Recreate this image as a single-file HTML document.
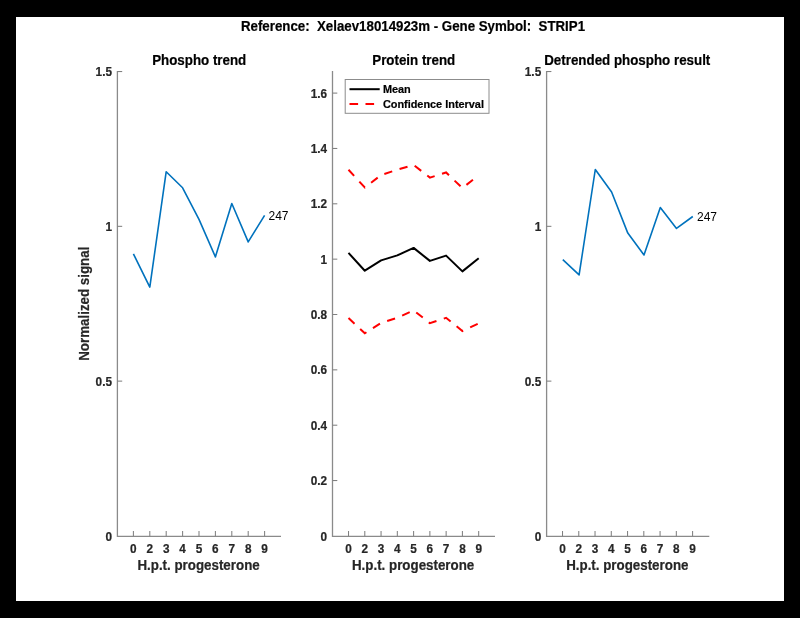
<!DOCTYPE html>
<html><head><meta charset="utf-8"><title>STRIP1</title>
<style>
html,body{margin:0;padding:0;background:#000;}
body{width:800px;height:618px;overflow:hidden;font-family:"Liberation Sans",sans-serif;}
svg text{font-family:"Liberation Sans",sans-serif;}
svg{will-change:transform;}
svg text[font-weight=bold]{stroke-width:0.2px;stroke-linejoin:round;paint-order:stroke;}
svg text[fill="#000"][font-weight=bold]{stroke:#000;}
svg text[fill="#262626"][font-weight=bold]{stroke:#262626;}
</style></head><body>
<svg width="800" height="618" viewBox="0 0 800 618" style="display:block">
<rect x="0" y="0" width="800" height="618" fill="#000"/>
<rect x="16" y="17" width="768" height="584" fill="#fff"/>
<text transform="translate(413,30.6) scale(1,1.06)" text-anchor="middle" font-size="13.3" font-weight="bold" fill="#000" style="white-space:pre" xml:space="preserve">Reference:  Xelaev18014923m - Gene Symbol:  STRIP1</text>
<path d="M117.4 70.89999999999999 V536.3 H281" fill="none" stroke="#8a8a8a" stroke-width="1.3"/>
<path d="M133.40 536.3 v-5.3" stroke="#808080" stroke-width="1.05"/>
<path d="M149.80 536.3 v-5.3" stroke="#808080" stroke-width="1.05"/>
<path d="M166.20 536.3 v-5.3" stroke="#808080" stroke-width="1.05"/>
<path d="M182.60 536.3 v-5.3" stroke="#808080" stroke-width="1.05"/>
<path d="M199.00 536.3 v-5.3" stroke="#808080" stroke-width="1.05"/>
<path d="M215.40 536.3 v-5.3" stroke="#808080" stroke-width="1.05"/>
<path d="M231.80 536.3 v-5.3" stroke="#808080" stroke-width="1.05"/>
<path d="M248.20 536.3 v-5.3" stroke="#808080" stroke-width="1.05"/>
<path d="M264.60 536.3 v-5.3" stroke="#808080" stroke-width="1.05"/>
<text transform="translate(133.40,552.5) scale(1,1.06)" text-anchor="middle" font-size="11.8" font-weight="bold" fill="#262626">0</text>
<text transform="translate(149.80,552.5) scale(1,1.06)" text-anchor="middle" font-size="11.8" font-weight="bold" fill="#262626">2</text>
<text transform="translate(166.20,552.5) scale(1,1.06)" text-anchor="middle" font-size="11.8" font-weight="bold" fill="#262626">3</text>
<text transform="translate(182.60,552.5) scale(1,1.06)" text-anchor="middle" font-size="11.8" font-weight="bold" fill="#262626">4</text>
<text transform="translate(199.00,552.5) scale(1,1.06)" text-anchor="middle" font-size="11.8" font-weight="bold" fill="#262626">5</text>
<text transform="translate(215.40,552.5) scale(1,1.06)" text-anchor="middle" font-size="11.8" font-weight="bold" fill="#262626">6</text>
<text transform="translate(231.80,552.5) scale(1,1.06)" text-anchor="middle" font-size="11.8" font-weight="bold" fill="#262626">7</text>
<text transform="translate(248.20,552.5) scale(1,1.06)" text-anchor="middle" font-size="11.8" font-weight="bold" fill="#262626">8</text>
<text transform="translate(264.60,552.5) scale(1,1.06)" text-anchor="middle" font-size="11.8" font-weight="bold" fill="#262626">9</text>
<text transform="translate(112.00,540.50) scale(1,1.06)" text-anchor="end" font-size="11.8" font-weight="bold" fill="#262626">0</text>
<path d="M117.4 381.12 h4.8" stroke="#808080" stroke-width="1.05"/>
<text transform="translate(112.00,385.72) scale(1,1.06)" text-anchor="end" font-size="11.8" font-weight="bold" fill="#262626">0.5</text>
<path d="M117.4 226.33 h4.8" stroke="#808080" stroke-width="1.05"/>
<text transform="translate(112.00,230.93) scale(1,1.06)" text-anchor="end" font-size="11.8" font-weight="bold" fill="#262626">1</text>
<path d="M117.4 71.55 h4.8" stroke="#808080" stroke-width="1.05"/>
<text transform="translate(112.00,76.15) scale(1,1.06)" text-anchor="end" font-size="11.8" font-weight="bold" fill="#262626">1.5</text>
<text transform="translate(198.55,570.3) scale(1,1.06)" text-anchor="middle" font-size="13.35" font-weight="bold" fill="#262626">H.p.t. progesterone</text>
<text transform="translate(199.20,65.2) scale(1,1.06)" text-anchor="middle" font-size="13.35" font-weight="bold" fill="#000">Phospho trend</text>
<polyline points="133.4,253.8 149.8,287.1 166.2,171.7 182.6,187.8 199.0,219.4 215.4,256.9 231.8,203.5 248.2,241.9 264.6,215.3" fill="none" stroke="#0072BD" stroke-width="1.6" stroke-linejoin="round"/>
<text x="268.5" y="219.6" font-size="12" fill="#000">247</text>
<text transform="translate(89.0,303.7) rotate(-90) scale(1,1.06)" text-anchor="middle" font-size="13.35" font-weight="bold" fill="#262626">Normalized signal</text>
<path d="M332.5 70.89999999999999 V536.3 H495" fill="none" stroke="#8a8a8a" stroke-width="1.3"/>
<path d="M348.52 536.3 v-5.3" stroke="#808080" stroke-width="1.05"/>
<path d="M364.79 536.3 v-5.3" stroke="#808080" stroke-width="1.05"/>
<path d="M381.06 536.3 v-5.3" stroke="#808080" stroke-width="1.05"/>
<path d="M397.33 536.3 v-5.3" stroke="#808080" stroke-width="1.05"/>
<path d="M413.60 536.3 v-5.3" stroke="#808080" stroke-width="1.05"/>
<path d="M429.87 536.3 v-5.3" stroke="#808080" stroke-width="1.05"/>
<path d="M446.14 536.3 v-5.3" stroke="#808080" stroke-width="1.05"/>
<path d="M462.41 536.3 v-5.3" stroke="#808080" stroke-width="1.05"/>
<path d="M478.68 536.3 v-5.3" stroke="#808080" stroke-width="1.05"/>
<text transform="translate(348.52,552.5) scale(1,1.06)" text-anchor="middle" font-size="11.8" font-weight="bold" fill="#262626">0</text>
<text transform="translate(364.79,552.5) scale(1,1.06)" text-anchor="middle" font-size="11.8" font-weight="bold" fill="#262626">2</text>
<text transform="translate(381.06,552.5) scale(1,1.06)" text-anchor="middle" font-size="11.8" font-weight="bold" fill="#262626">3</text>
<text transform="translate(397.33,552.5) scale(1,1.06)" text-anchor="middle" font-size="11.8" font-weight="bold" fill="#262626">4</text>
<text transform="translate(413.60,552.5) scale(1,1.06)" text-anchor="middle" font-size="11.8" font-weight="bold" fill="#262626">5</text>
<text transform="translate(429.87,552.5) scale(1,1.06)" text-anchor="middle" font-size="11.8" font-weight="bold" fill="#262626">6</text>
<text transform="translate(446.14,552.5) scale(1,1.06)" text-anchor="middle" font-size="11.8" font-weight="bold" fill="#262626">7</text>
<text transform="translate(462.41,552.5) scale(1,1.06)" text-anchor="middle" font-size="11.8" font-weight="bold" fill="#262626">8</text>
<text transform="translate(478.68,552.5) scale(1,1.06)" text-anchor="middle" font-size="11.8" font-weight="bold" fill="#262626">9</text>
<text transform="translate(327.10,540.50) scale(1,1.06)" text-anchor="end" font-size="11.8" font-weight="bold" fill="#262626">0</text>
<path d="M332.5 480.55 h4.8" stroke="#808080" stroke-width="1.05"/>
<text transform="translate(327.10,485.15) scale(1,1.06)" text-anchor="end" font-size="11.8" font-weight="bold" fill="#262626">0.2</text>
<path d="M332.5 425.20 h4.8" stroke="#808080" stroke-width="1.05"/>
<text transform="translate(327.10,429.80) scale(1,1.06)" text-anchor="end" font-size="11.8" font-weight="bold" fill="#262626">0.4</text>
<path d="M332.5 369.85 h4.8" stroke="#808080" stroke-width="1.05"/>
<text transform="translate(327.10,374.45) scale(1,1.06)" text-anchor="end" font-size="11.8" font-weight="bold" fill="#262626">0.6</text>
<path d="M332.5 314.50 h4.8" stroke="#808080" stroke-width="1.05"/>
<text transform="translate(327.10,319.10) scale(1,1.06)" text-anchor="end" font-size="11.8" font-weight="bold" fill="#262626">0.8</text>
<path d="M332.5 259.15 h4.8" stroke="#808080" stroke-width="1.05"/>
<text transform="translate(327.10,263.75) scale(1,1.06)" text-anchor="end" font-size="11.8" font-weight="bold" fill="#262626">1</text>
<path d="M332.5 203.80 h4.8" stroke="#808080" stroke-width="1.05"/>
<text transform="translate(327.10,208.40) scale(1,1.06)" text-anchor="end" font-size="11.8" font-weight="bold" fill="#262626">1.2</text>
<path d="M332.5 148.45 h4.8" stroke="#808080" stroke-width="1.05"/>
<text transform="translate(327.10,153.05) scale(1,1.06)" text-anchor="end" font-size="11.8" font-weight="bold" fill="#262626">1.4</text>
<path d="M332.5 93.10 h4.8" stroke="#808080" stroke-width="1.05"/>
<text transform="translate(327.10,97.70) scale(1,1.06)" text-anchor="end" font-size="11.8" font-weight="bold" fill="#262626">1.6</text>
<text transform="translate(413.10,570.3) scale(1,1.06)" text-anchor="middle" font-size="13.35" font-weight="bold" fill="#262626">H.p.t. progesterone</text>
<text transform="translate(413.75,65.2) scale(1,1.06)" text-anchor="middle" font-size="13.35" font-weight="bold" fill="#000">Protein trend</text>
<polyline points="348.5,252.9 364.8,270.7 381.1,260.4 397.3,255.4 413.6,247.9 429.9,260.9 446.1,255.6 462.4,271.4 478.7,258.2" fill="none" stroke="#000" stroke-width="2" stroke-linejoin="round"/>
<polyline points="348.5,169.8 364.8,187.5 381.1,175.0 397.3,169.7 413.6,164.9 429.9,177.6 446.1,172.5 462.4,188.1 478.7,175.2" fill="none" stroke="#FF0000" stroke-width="2" stroke-dasharray="8.3 7.7"/>
<polyline points="348.5,318.0 364.8,333.3 381.1,323.0 397.3,317.8 413.6,310.3 429.9,323.2 446.1,317.8 462.4,331.0 478.7,323.4" fill="none" stroke="#FF0000" stroke-width="2" stroke-dasharray="8.3 7.7"/>
<rect x="345.2" y="79.5" width="143.8" height="33.8" fill="#fff" stroke="#8c8c8c" stroke-width="1"/>
<path d="M349.5 89.2 H379.7" stroke="#000" stroke-width="2"/>
<path d="M349.5 104 H379.7" stroke="#FF0000" stroke-width="2" stroke-dasharray="8.6 7.4"/>
<text transform="translate(382.9,92.9) scale(1,1.06)" font-size="10.9" font-weight="bold" fill="#000">Mean</text>
<text transform="translate(382.9,107.8) scale(1,1.06)" font-size="10.9" font-weight="bold" fill="#000">Confidence Interval</text>
<path d="M546.6 70.89999999999999 V536.3 H709.3" fill="none" stroke="#8a8a8a" stroke-width="1.3"/>
<path d="M562.51 536.3 v-5.3" stroke="#808080" stroke-width="1.05"/>
<path d="M578.77 536.3 v-5.3" stroke="#808080" stroke-width="1.05"/>
<path d="M595.03 536.3 v-5.3" stroke="#808080" stroke-width="1.05"/>
<path d="M611.29 536.3 v-5.3" stroke="#808080" stroke-width="1.05"/>
<path d="M627.55 536.3 v-5.3" stroke="#808080" stroke-width="1.05"/>
<path d="M643.81 536.3 v-5.3" stroke="#808080" stroke-width="1.05"/>
<path d="M660.07 536.3 v-5.3" stroke="#808080" stroke-width="1.05"/>
<path d="M676.33 536.3 v-5.3" stroke="#808080" stroke-width="1.05"/>
<path d="M692.59 536.3 v-5.3" stroke="#808080" stroke-width="1.05"/>
<text transform="translate(562.51,552.5) scale(1,1.06)" text-anchor="middle" font-size="11.8" font-weight="bold" fill="#262626">0</text>
<text transform="translate(578.77,552.5) scale(1,1.06)" text-anchor="middle" font-size="11.8" font-weight="bold" fill="#262626">2</text>
<text transform="translate(595.03,552.5) scale(1,1.06)" text-anchor="middle" font-size="11.8" font-weight="bold" fill="#262626">3</text>
<text transform="translate(611.29,552.5) scale(1,1.06)" text-anchor="middle" font-size="11.8" font-weight="bold" fill="#262626">4</text>
<text transform="translate(627.55,552.5) scale(1,1.06)" text-anchor="middle" font-size="11.8" font-weight="bold" fill="#262626">5</text>
<text transform="translate(643.81,552.5) scale(1,1.06)" text-anchor="middle" font-size="11.8" font-weight="bold" fill="#262626">6</text>
<text transform="translate(660.07,552.5) scale(1,1.06)" text-anchor="middle" font-size="11.8" font-weight="bold" fill="#262626">7</text>
<text transform="translate(676.33,552.5) scale(1,1.06)" text-anchor="middle" font-size="11.8" font-weight="bold" fill="#262626">8</text>
<text transform="translate(692.59,552.5) scale(1,1.06)" text-anchor="middle" font-size="11.8" font-weight="bold" fill="#262626">9</text>
<text transform="translate(541.20,540.50) scale(1,1.06)" text-anchor="end" font-size="11.8" font-weight="bold" fill="#262626">0</text>
<path d="M546.6 381.12 h4.8" stroke="#808080" stroke-width="1.05"/>
<text transform="translate(541.20,385.72) scale(1,1.06)" text-anchor="end" font-size="11.8" font-weight="bold" fill="#262626">0.5</text>
<path d="M546.6 226.33 h4.8" stroke="#808080" stroke-width="1.05"/>
<text transform="translate(541.20,230.93) scale(1,1.06)" text-anchor="end" font-size="11.8" font-weight="bold" fill="#262626">1</text>
<path d="M546.6 71.55 h4.8" stroke="#808080" stroke-width="1.05"/>
<text transform="translate(541.20,76.15) scale(1,1.06)" text-anchor="end" font-size="11.8" font-weight="bold" fill="#262626">1.5</text>
<text transform="translate(627.30,570.3) scale(1,1.06)" text-anchor="middle" font-size="13.35" font-weight="bold" fill="#262626">H.p.t. progesterone</text>
<text transform="translate(627.25,65.2) scale(1,1.06)" text-anchor="middle" font-size="13.35" font-weight="bold" fill="#000">Detrended phospho result</text>
<polyline points="562.8,259.7 579.1,274.9 595.3,169.5 611.6,192.0 627.8,233.1 644.0,255.0 660.3,207.5 676.5,228.4 692.8,216.5" fill="none" stroke="#0072BD" stroke-width="1.6" stroke-linejoin="round"/>
<text x="697" y="221" font-size="12" fill="#000">247</text>
</svg>
</body></html>
